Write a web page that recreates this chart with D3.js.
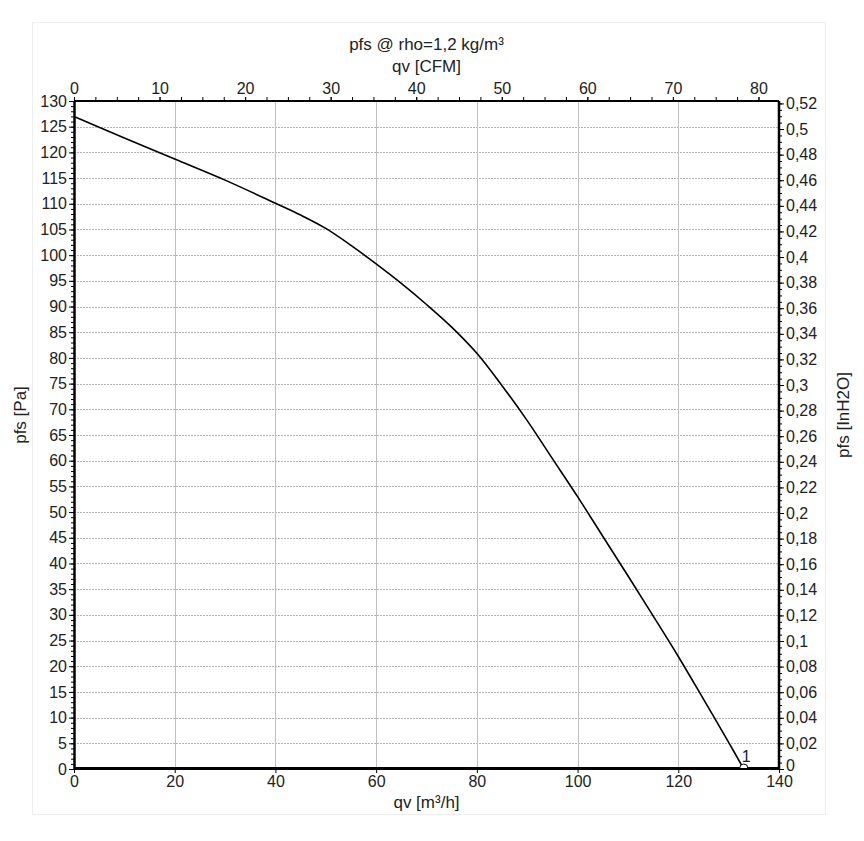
<!DOCTYPE html>
<html>
<head>
<meta charset="utf-8">
<script src="https://cdn.jsdelivr.net/npm/d3@7"></script>
<style>
  html, body { margin: 0; padding: 0; background: #fff; }
  svg { display: block; font-family: "Liberation Sans", Arial, sans-serif; }
</style>
</head>
<body>
<svg id="chart" width="864" height="841"></svg>
<script>
// ---- data ----
const qv = [0, 10, 20, 30, 40, 45, 50, 55, 60, 65, 70, 75, 80, 85, 90, 95, 100, 105, 110, 115, 120, 125, 130, 133];
const pfs = [127, 122.8, 118.7, 114.6, 110.1, 107.8, 105.2, 101.9, 98.3, 94.5, 90.4, 86.0, 80.9, 74.6, 67.8, 60.4, 53.0, 45.3, 37.6, 29.8, 21.9, 13.6, 5.2, 0];
const pointLabel = "1";
const pointQ = 133, pointP = 0;

const qTicks = [0, 20, 40, 60, 80, 100, 120, 140];
const pTicks = d3.range(0, 131, 5);
const cfmTicks = [0, 10, 20, 30, 40, 50, 60, 70, 80];
const inTicks = d3.range(0, 27).map(i => +(i * 0.02).toFixed(2));

const titleTop = "pfs @ rho=1,2 kg/m³";
const labelTop = "qv [CFM]";
const labelBottom = "qv [m³/h]";
const labelLeft = "pfs [Pa]";
const labelRight = "pfs [InH2O]";

const CFM_PER_M3H = 0.588578;
const INH2O_PER_PA = 0.00401463;

// ---- layout ----
const L = 74, R = 779, T = 101, B = 769;
const svg = d3.select("#chart");

const x = d3.scaleLinear().domain([0, 140]).range([L, R]);
const y = d3.scaleLinear().domain([0, 130]).range([B, T]);
const xc = d3.scaleLinear().domain([0, 140 * CFM_PER_M3H]).range([L, R]);
const yi = d3.scaleLinear().domain([0, 130 * INH2O_PER_PA]).range([B, T]);

const comma = v => String(v).replace(".", ",");

// faint frame
svg.append("rect").attr("x", 32.5).attr("y", 22.5).attr("width", 793).attr("height", 792)
  .attr("fill", "none").attr("stroke", "#eeeeee");

// grid
const g = svg.append("g");
g.selectAll("line.h").data(pTicks.filter(d => d > 0 && d < 130)).join("line")
  .attr("x1", L).attr("x2", R)
  .attr("y1", d => Math.round(y(d)) + 0.5).attr("y2", d => Math.round(y(d)) + 0.5)
  .attr("stroke", "#b4b4b4").attr("stroke-width", 1).attr("stroke-dasharray", "2,1");
g.selectAll("line.v").data(qTicks.filter(d => d > 0 && d < 140)).join("line")
  .attr("y1", T).attr("y2", B)
  .attr("x1", d => Math.round(x(d)) + 0.5).attr("x2", d => Math.round(x(d)) + 0.5)
  .attr("stroke", "#c0c0c0").attr("stroke-width", 1);

// axes
const fs = "16px";
const fsT = "17px";
function styleAxis(sel, w) {
  sel.select(".domain").attr("stroke", "#000").attr("stroke-width", w);
  sel.selectAll(".tick line").attr("stroke", "#000");
  sel.selectAll(".tick text").attr("fill", "#222").style("font-size", fs)
    .style("font-family", "'Liberation Sans', Arial, sans-serif");
}

// left minor ticks
svg.append("g").attr("transform", `translate(${L},0)`)
  .call(d3.axisLeft(y).tickValues(d3.range(0, 131, 1)).tickSize(3).tickFormat("").tickSizeOuter(0))
  .call(s => { s.select(".domain").remove(); s.selectAll("line").attr("stroke", "#000"); });
const ax = svg.append("g").attr("transform", `translate(${L},0)`)
  .call(d3.axisLeft(y).tickValues(pTicks).tickSize(5).tickPadding(2).tickSizeOuter(0));
styleAxis(ax, 2.5);

// right axis
svg.append("g").attr("transform", `translate(${R},0)`)
  .call(d3.axisRight(yi).tickValues(d3.range(0, 105).map(i => i * 0.005)).tickSize(3).tickFormat("").tickSizeOuter(0))
  .call(s => { s.select(".domain").remove(); s.selectAll("line").attr("stroke", "#000"); });
const ar = svg.append("g").attr("transform", `translate(${R},0)`)
  .call(d3.axisRight(yi).tickValues(inTicks).tickSize(5).tickPadding(2).tickFormat(comma).tickSizeOuter(0));
styleAxis(ar, 2.5);
ar.select(".domain").attr("d", `M0,${T}V${B}`);
ar.selectAll(".tick text").filter(d => d === 0).attr("dy", "0.1em");

// top axis
svg.append("g").attr("transform", `translate(0,${T})`)
  .call(d3.axisTop(xc).tickValues(d3.range(0, 82.5, 2.5)).tickSize(4).tickFormat("").tickSizeOuter(0))
  .call(s => { s.select(".domain").remove(); s.selectAll("line").attr("stroke", "#000"); });
const at = svg.append("g").attr("transform", `translate(0,${T})`)
  .call(d3.axisTop(xc).tickValues(cfmTicks).tickSize(4).tickPadding(3).tickSizeOuter(0));
styleAxis(at, 2);
at.select(".domain").attr("d", `M${L},0H${R}`);

// bottom axis
const ab = svg.append("g").attr("transform", `translate(0,${B - 1})`)
  .call(d3.axisBottom(x).tickValues(qTicks).tickSize(5).tickPadding(3).tickSizeOuter(0));
styleAxis(ab, 3);

// curve
const line = d3.line().x(d => x(d[0])).y(d => y(d[1])).curve(d3.curveCatmullRom.alpha(0.5));
svg.append("path").datum(qv.map((q, i) => [q, pfs[i]]))
  .attr("d", line).attr("fill", "none").attr("stroke", "#000").attr("stroke-width", 1.6);

// operating point marker
const mx = x(pointQ), my = y(pointP) - 1;
svg.append("path")
  .attr("d", `M${mx - 4},${my} A4,4 0 0 1 ${mx + 4},${my}`)
  .attr("fill", "#fff").attr("stroke", "#000").attr("stroke-width", 1);
svg.append("text").attr("x", mx - 2).attr("y", my - 6).text(pointLabel)
  .style("font-size", fs).attr("fill", "#222");

// titles
const cx = (L + R) / 2;
const cy = 415;
svg.append("text").attr("x", cx).attr("y", 50).attr("text-anchor", "middle")
  .style("font-size", fsT).attr("fill", "#222").text(titleTop);
svg.append("text").attr("x", cx).attr("y", 72).attr("text-anchor", "middle")
  .style("font-size", fsT).attr("fill", "#222").text(labelTop);
svg.append("text").attr("x", cx).attr("y", 808).attr("text-anchor", "middle")
  .style("font-size", fsT).attr("fill", "#222").text(labelBottom);
svg.append("text").attr("transform", `translate(26,${cy}) rotate(-90)`)
  .attr("text-anchor", "middle").style("font-size", fsT).attr("fill", "#222").text(labelLeft);
svg.append("text").attr("transform", `translate(849,${cy}) rotate(-90)`)
  .attr("text-anchor", "middle").style("font-size", fsT).attr("fill", "#222").text(labelRight);
</script>
</body>
</html>
